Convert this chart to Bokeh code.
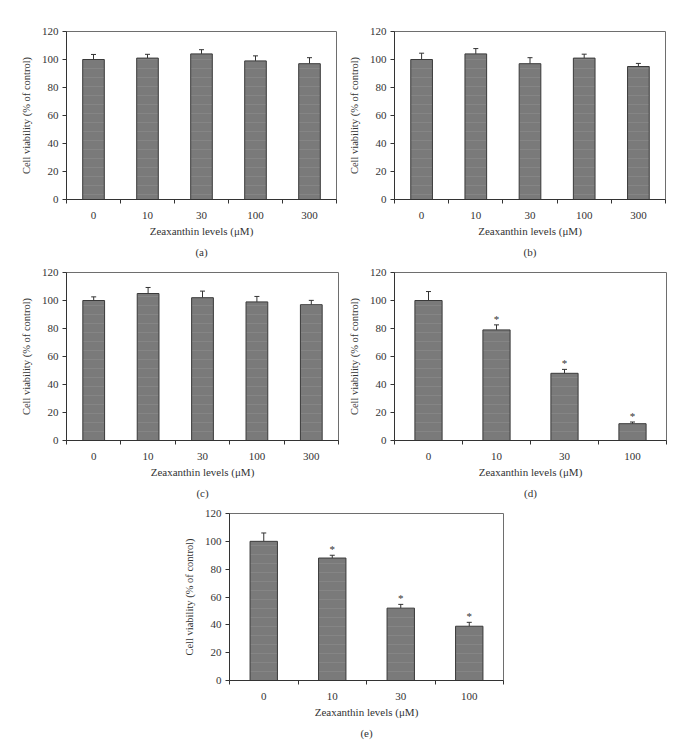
from bokeh.plotting import figure
from bokeh.models import Range1d, FixedTicker, Whisker, TeeHead, ColumnDataSource, Title, Spacer
from bokeh.layouts import row, column
from bokeh.embed import file_html
from bokeh.resources import INLINE
from bokeh.core.properties import value

# ---- data ----
doses_5 = ["0", "10", "30", "100", "300"]
doses_4 = ["0", "10", "30", "100"]
y_ticks = [0, 20, 40, 60, 80, 100, 120]

viab_a = [100, 101, 104, 99, 97]
err_a = [3.6, 2.7, 3.0, 3.6, 4.3]

viab_b = [100, 104, 97, 101, 95]
err_b = [4.5, 3.8, 4.3, 2.8, 2.2]

viab_c = [100, 105, 102, 99, 97]
err_c = [2.6, 4.3, 4.7, 3.9, 3.1]

viab_d = [100, 79, 48, 12]
err_d = [6.4, 3.6, 2.8, 1.2]
sig_d = [False, True, True, True]

viab_e = [100, 88, 52, 39]
err_e = [6.0, 2.0, 2.7, 2.8]
sig_e = [False, True, True, True]

x_title = "Zeaxanthin levels (\u03bcM)"
y_title = "Cell viability (% of control)"

FONT = "Liberation Serif"
DARK = "#333333"


def panel(cats, vals, errs, sig, caption, width, height, bl, br, bt, bb, cap_standoff):
    n = len(cats)
    xs = [i + 0.5 for i in range(n)]
    p = figure(width=width, height=height, x_range=Range1d(0, n), y_range=Range1d(0, 120),
               output_backend="svg", toolbar_location=None,
               min_border_left=bl, min_border_right=br, min_border_top=bt, min_border_bottom=bb)
    p.xgrid.visible = False
    p.ygrid.visible = False
    p.outline_line_color = "#6e6e6e"
    p.outline_line_width = 1
    p.background_fill_color = "white"
    p.border_fill_color = "white"

    src = ColumnDataSource(dict(x=xs, top=vals, upper=[v + e for v, e in zip(vals, errs)]))
    p.vbar(x="x", top="top", width=0.4, source=src, fill_color="#7a7a7a", line_color="#3a3a3a",
           line_width=1, hatch_pattern="horizontal_line", hatch_color="#a8a8a8",
           hatch_alpha=0.25, hatch_scale=9, hatch_weight=1)
    p.add_layout(Whisker(base="x", upper="upper", lower="top", source=src, dimension="height",
                         line_color=DARK, line_width=1,
                         upper_head=TeeHead(size=5, line_color=DARK, line_width=1), lower_head=None))

    if sig is not None:
        sx = [x for x, s in zip(xs, sig) if s]
        sy = [v + e for v, e, s in zip(vals, errs, sig) if s]
        p.text(x=sx, y=sy, text=["*"] * len(sx), text_align="center", text_baseline="bottom",
               text_font=value(FONT), text_font_size="11px", text_color=DARK)

    # x axis: labels at category centres, ticks at category boundaries
    ax = p.xaxis[0]
    ax.ticker = FixedTicker(ticks=xs, minor_ticks=list(range(n + 1)))
    ax.major_label_overrides = {x: c for x, c in zip(xs, cats)}
    ax.major_tick_out = 0
    ax.major_tick_in = 0
    ax.minor_tick_out = 4
    ax.minor_tick_in = 0
    ax.minor_tick_line_color = DARK
    ax.major_label_standoff = 8
    ax.axis_label = x_title
    ax.axis_label_standoff = 3
    ax.axis_label_text_font_size = "11px"

    ay = p.yaxis[0]
    ay.ticker = FixedTicker(ticks=y_ticks)
    ay.major_tick_out = 4
    ay.major_tick_in = 0
    ay.minor_tick_out = 0
    ay.minor_tick_in = 0
    ay.major_label_standoff = 4
    ay.axis_label = y_title
    ay.axis_label_standoff = 7
    ay.axis_label_text_font_size = "10.5px"

    for a in (ax, ay):
        a.axis_line_color = DARK
        a.major_tick_line_color = DARK
        a.major_label_text_font = FONT
        a.major_label_text_font_size = "11px"
        a.major_label_text_color = DARK
        a.axis_label_text_font = FONT
        a.axis_label_text_font_style = "normal"
        a.axis_label_text_color = DARK

    cap = Title(text=caption, align="center", text_font=FONT, text_font_size="11px",
                text_font_style="normal", text_color=DARK, standoff=cap_standoff)
    p.add_layout(cap, "below")
    return p


pa = panel(doses_5, viab_a, err_a, None, "(a)", 345, 264, 66, 9, 31, 65, 9)
pb = panel(doses_5, viab_b, err_b, None, "(b)", 346, 264, 48, 26, 31, 65, 9)
pc = panel(doses_5, viab_c, err_c, None, "(c)", 345, 240, 66, 7, 8, 64, 9)
pd = panel(doses_4, viab_d, err_d, sig_d, "(d)", 346, 240, 47, 25, 8, 64, 9)
pe = panel(doses_4, viab_e, err_e, sig_e, "(e)", 352, 239, 58, 20, 9, 62, 9)

layout = column(row(pa, pb), row(pc, pd), row(Spacer(width=171, height=239), pe))

with open("out.html", "w") as f:
    f.write(file_html(layout, INLINE))
